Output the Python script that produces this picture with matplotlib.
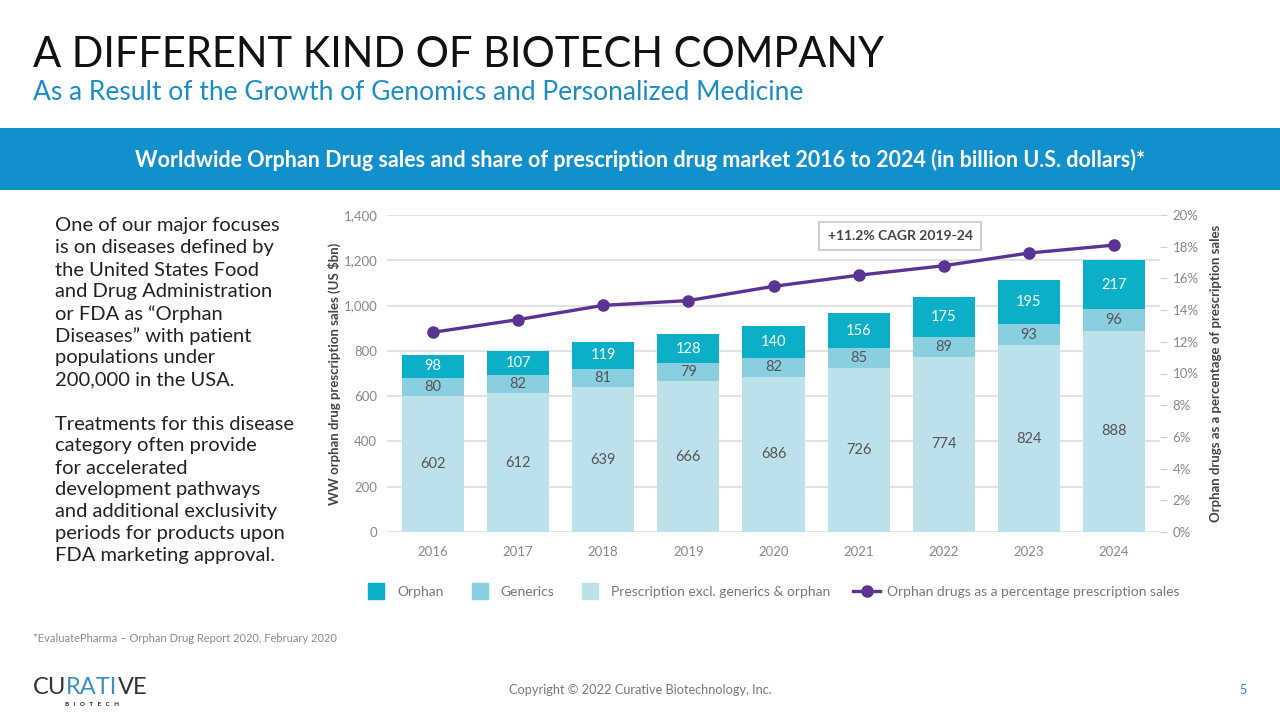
import matplotlib
matplotlib.use("Agg")
import matplotlib.pyplot as plt
from matplotlib.lines import Line2D
from matplotlib.patches import Rectangle
import numpy as np

plt.rcParams['font.family'] = ['Lato', 'DejaVu Sans']

# data
years = ["2016", "2017", "2018", "2019", "2020", "2021", "2022", "2023", "2024"]
prescription = [602, 612, 639, 666, 686, 726, 774, 824, 888]
generics = [80, 82, 81, 79, 82, 85, 89, 93, 96]
orphan = [98, 107, 119, 128, 140, 156, 175, 195, 217]
orphan_share = [12.6, 13.4, 14.3, 14.6, 15.5, 16.2, 16.8, 17.6, 18.1]

left_ticks = [0, 200, 400, 600, 800, 1000, 1200, 1400]
right_ticks = [0, 2, 4, 6, 8, 10, 12, 14, 16, 18, 20]

c_orphan = "#0BB0C8"
c_generics = "#8ACFE0"
c_presc = "#BDE1EB"
c_line = "#5B3393"
c_banner = "#1290CC"
c_sub = "#1C8DC4"

body_lines = [
    "One of our major focuses",
    "is on diseases defined by",
    "the United States Food",
    "and Drug Administration",
    "or FDA as \u201cOrphan",
    "Diseases\u201d with patient",
    "populations under",
    "200,000 in the USA.",
    "",
    "Treatments for this disease",
    "category often provide",
    "for accelerated",
    "development pathways",
    "and additional exclusivity",
    "periods for products upon",
    "FDA marketing approval.",
]

W, H = 1280, 720
fig = plt.figure(figsize=(12.8, 7.2), dpi=100)
fig.patch.set_facecolor("white")

# slide header
fig.text(33 / W, 1 - 55 / H, "A DIFFERENT KIND OF BIOTECH COMPANY", fontsize=30,
         color="#111111", va="center", ha="left")
fig.text(33 / W, 1 - 93 / H, "As a Result of the Growth of Genomics and Personalized Medicine",
         fontsize=19, color=c_sub, va="center", ha="left")

fig.patches.append(Rectangle((0, 1 - 190 / H), 1, 62 / H, transform=fig.transFigure,
                             facecolor=c_banner, edgecolor="none", zorder=0))
fig.text(0.5, 1 - 160 / H,
         "Worldwide Orphan Drug sales and share of prescription drug market 2016 to 2024 (in billion U.S. dollars)*",
         fontsize=15.5, fontweight="bold", color="white", ha="center", va="center")

# left paragraph
for i, line in enumerate(body_lines):
    fig.text(55 / W, 1 - (226 + 22 * i) / H, line, fontsize=14.5, color="#222222",
             ha="left", va="center")

fig.text(33 / W, 1 - 638 / H, "*EvaluatePharma \u2013 Orphan Drug Report 2020, February 2020",
         fontsize=8, color="#8a8a8a", ha="left", va="center")
fig.text(640 / W, 1 - 690 / H, "Copyright \u00a9 2022 Curative Biotechnology, Inc.",
         fontsize=9.2, color="#777777", ha="center", va="center")
fig.text(1243 / W, 1 - 690 / H, "5", fontsize=9, color=c_sub, ha="center", va="center")

# chart
ax = fig.add_axes([387 / W, 1 - 532 / H, (1160 - 387) / W, (532 - 215) / H])
x = np.arange(len(years))
bw = 0.73
p = np.array(prescription)
g = np.array(generics)
o = np.array(orphan)
ax.bar(x, p, bw, color=c_presc, zorder=2)
ax.bar(x, g, bw, bottom=p, color=c_generics, zorder=2)
ax.bar(x, o, bw, bottom=p + g, color=c_orphan, zorder=2)

for i in range(len(years)):
    ax.text(x[i], p[i] / 2, str(p[i]), ha="center", va="center", fontsize=10.5, color="#555555", zorder=3)
    ax.text(x[i], p[i] + g[i] / 2, str(g[i]), ha="center", va="center", fontsize=10.5, color="#555555", zorder=3)
    ax.text(x[i], p[i] + g[i] + o[i] / 2, str(o[i]), ha="center", va="center", fontsize=10.5,
            color="white", zorder=3)

ax.set_xlim(-0.54, len(years) - 1 + 0.54)
ax.set_ylim(0, 1400)
ax.set_yticks(left_ticks)
ax.set_yticklabels([f"{v:,}" for v in left_ticks])
ax.set_xticks(x)
ax.set_xticklabels(years)
ax.tick_params(axis="both", length=0, labelsize=9.5, labelcolor="#888888")
ax.tick_params(axis="x", pad=10)
ax.tick_params(axis="y", pad=7)
ax.grid(axis="y", color="#e3e3e3", linewidth=1.5, zorder=0)
ax.set_axisbelow(True)
for s in ax.spines.values():
    s.set_visible(False)
ax.set_ylabel("WW orphan drug prescription sales (US $bn)", fontsize=9.5, fontweight="bold",
              color="#444444", labelpad=2)

ax2 = ax.twinx()
ax2.plot(x, orphan_share, color=c_line, linewidth=2.4, marker="o", markersize=8, zorder=4)
ax2.set_ylim(0, 20)
ax2.set_yticks(right_ticks)
ax2.set_yticklabels([f"{v}%" for v in right_ticks])
ax2.tick_params(axis="y", length=5, color="#cccccc", labelsize=9.5, labelcolor="#888888", pad=4)
for s in ax2.spines.values():
    s.set_visible(False)
ax2.set_ylabel("Orphan drugs as a percentage of prescription sales", fontsize=9.5,
               fontweight="bold", color="#444444", labelpad=8)

ax2.text(0.664, 0.934, "+11.2% CAGR 2019-24", transform=ax2.transAxes, ha="center", va="center",
         fontsize=10, fontweight="bold", color="#444444",
         bbox=dict(boxstyle="square,pad=0.6", facecolor="white", edgecolor="#c8c8c8", linewidth=1.2))

handles = [
    Line2D([], [], linestyle="none", marker="s", markersize=11, color=c_orphan),
    Line2D([], [], linestyle="none", marker="s", markersize=11, color=c_generics),
    Line2D([], [], linestyle="none", marker="s", markersize=11, color=c_presc),
    Line2D([], [], color=c_line, linewidth=2.4, marker="o", markersize=8),
]
labels = ["Orphan", "Generics", "Prescription excl. generics & orphan",
          "Orphan drugs as a percentage prescription sales"]
leg = fig.legend(handles, labels, loc="center left", bbox_to_anchor=(350 / W, 1 - 592 / H),
                 ncol=4, frameon=False, fontsize=10, handlelength=2.0, handletextpad=0.5,
                 columnspacing=1.6)
for t in leg.get_texts():
    t.set_color("#777777")

# logo, pieces chained so they sit side by side
logo_cu = ax.annotate("CU", xy=(33 / W, 1 - 688 / H), xycoords="figure fraction", fontsize=17,
                      color="#333333", ha="left", va="center", annotation_clip=False)
logo_rati = ax.annotate("RATI", xy=(1, 0.5), xycoords=logo_cu, fontsize=17,
                        color="#3a8fc0", ha="left", va="center", annotation_clip=False)
ax.annotate("VE", xy=(1, 0.5), xycoords=logo_rati, fontsize=17,
            color="#333333", ha="left", va="center", annotation_clip=False)
fig.text(92 / W, 1 - 704 / H, "B   I   O   T   E   C   H", fontsize=4.5, color="#222222",
         ha="center", va="center", fontweight="bold")

fig.savefig("out.png", dpi=100)
